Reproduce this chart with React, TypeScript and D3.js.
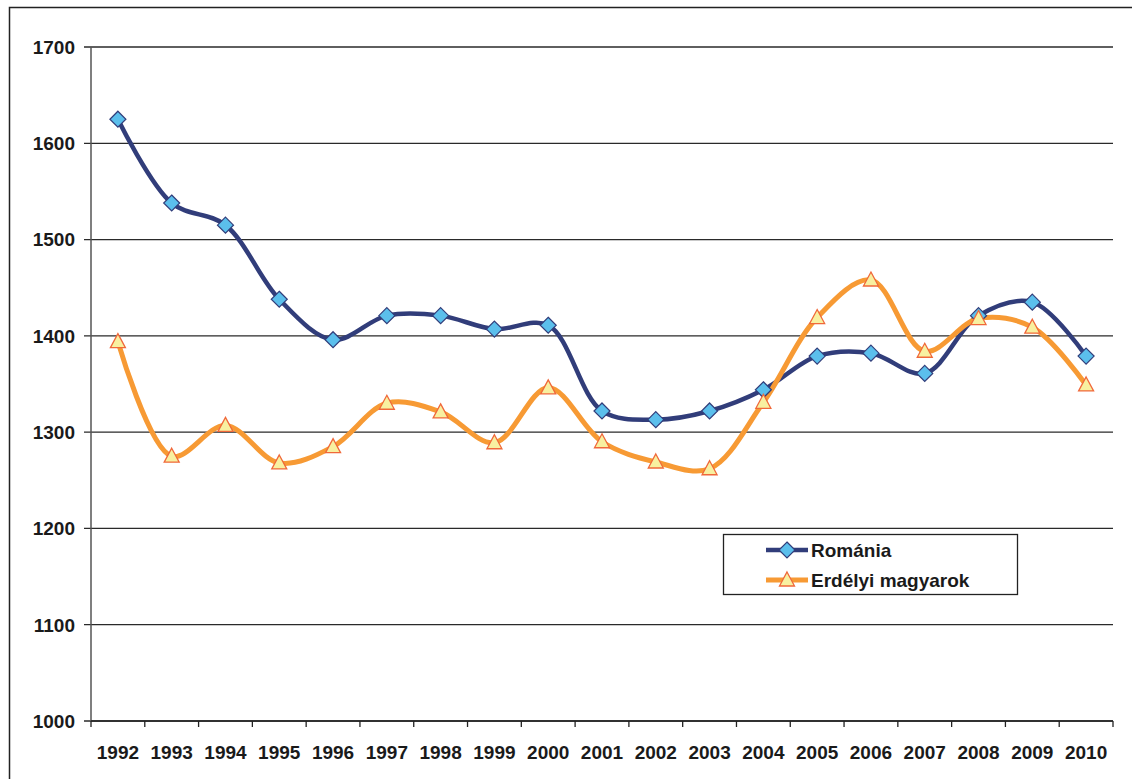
import React from "react";
import * as d3 from "d3";

const years = ["1992","1993","1994","1995","1996","1997","1998","1999","2000","2001","2002","2003","2004","2005","2006","2007","2008","2009","2010"];
const romania = [1625,1538,1515,1438,1396,1421,1421,1407,1411,1322,1313,1322,1344,1379,1382,1361,1421,1435,1379];
const erdely = [1394,1275,1307,1268,1285,1330,1321,1289,1346,1290,1269,1262,1331,1419,1458,1384,1418,1409,1349];
const yTicks = [1000,1100,1200,1300,1400,1500,1600,1700];
const seriesNames = ["Románia", "Erdélyi magyarok"];

const W = 1132, H = 779;
const left = 91, right = 1113, top = 47, bottom = 721;

export default function App() {
  const x = d3.scaleBand().domain(years).range([left, right]);
  const y = d3.scaleLinear().domain([1000, 1700]).range([bottom, top]);
  const cx = (i: number) => (x(years[i]) as number) + x.bandwidth() / 2;
  const line = d3.line<number>().x((_, i) => cx(i)).y(d => y(d)).curve(d3.curveCatmullRom.alpha(0.5));
  const font = "'Liberation Sans', Arial, sans-serif";
  const navy = "#313d7a";
  const orange = "#f79a34";
  const diamond = (px: number, py: number, k: string | number) => (
    <path key={k} d={`M${px},${py - 8}L${px + 8},${py}L${px},${py + 8}L${px - 8},${py}Z`} fill="#5bbfec" stroke={navy} strokeWidth={1.2} />
  );
  const tri = (px: number, py: number, k: string | number) => (
    <path key={k} d={`M${px},${py - 8}L${px + 7.5},${py + 6}L${px - 7.5},${py + 6}Z`} fill="#f8f0a0" stroke="#f0683a" strokeWidth={1.3} />
  );
  return (
    <svg width={W} height={H} style={{ position: "absolute", left: 0, top: 0 }}>
      <rect x={0} y={0} width={W} height={H} fill="#fff" />
      <rect x={9.5} y={7.5} width={W + 20} height={H + 20} fill="none" stroke="#222" strokeWidth={1.5} />
      {yTicks.map(t => (
        <g key={t}>
          <line x1={left - 7} x2={right} y1={y(t)} y2={y(t)} stroke="#2a2a2a" strokeWidth={1.3} />
          <text x={75} y={y(t) + 6.8} textAnchor="end" fontFamily={font} fontWeight="bold" fontSize={19} fill="#1a1a1a">{t}</text>
        </g>
      ))}
      <line x1={left} x2={left} y1={top} y2={bottom} stroke="#555" strokeWidth={1.5} />
      <line x1={left} x2={right} y1={bottom} y2={bottom} stroke="#222" strokeWidth={1.5} />
      {years.map((yr) => (
        <line key={"t" + yr} x1={x(yr) as number} x2={x(yr) as number} y1={bottom} y2={bottom + 6} stroke="#222" strokeWidth={1.3} />
      ))}
      <line x1={right} x2={right} y1={bottom} y2={bottom + 6} stroke="#222" strokeWidth={1.3} />
      {years.map((yr, i) => (
        <text key={"l" + yr} x={cx(i)} y={759} textAnchor="middle" fontFamily={font} fontWeight="bold" fontSize={19} fill="#1a1a1a">{yr}</text>
      ))}
      <path d={line(romania) || ""} fill="none" stroke={navy} strokeWidth={4.5} />
      <path d={line(erdely) || ""} fill="none" stroke={orange} strokeWidth={5} />
      {romania.map((v, i) => diamond(cx(i), y(v), "d" + i))}
      {erdely.map((v, i) => tri(cx(i), y(v), "r" + i))}
      <rect x={723.5} y={534.5} width={294} height={60} fill="#fff" stroke="#222" strokeWidth={1.3} />
      <line x1={766} x2={808} y1={550} y2={550} stroke={navy} strokeWidth={4.5} />
      {diamond(787, 550, "ld")}
      <text x={811} y={557} fontFamily={font} fontWeight="bold" fontSize={19} fill="#1a1a1a">{seriesNames[0]}</text>
      <line x1={766} x2={808} y1={580} y2={580} stroke={orange} strokeWidth={5} />
      {tri(787, 580, "lt")}
      <text x={811} y={587} fontFamily={font} fontWeight="bold" fontSize={19} fill="#1a1a1a">{seriesNames[1]}</text>
    </svg>
  );
}
